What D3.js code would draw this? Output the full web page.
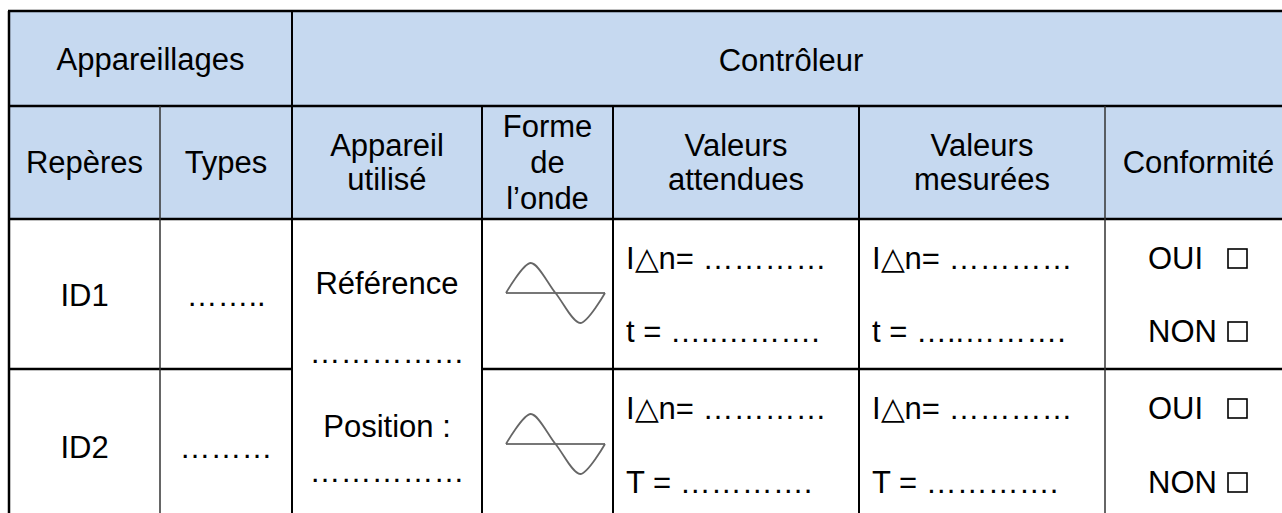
<!DOCTYPE html>
<html><head><meta charset="utf-8">
<script src="https://cdn.jsdelivr.net/npm/d3@7"></script>
<style>html,body{margin:0;padding:0;background:#fff;overflow:hidden}</style>
</head><body><svg id="c" width="1282" height="513"></svg>
<script>
// ---- content ----
const topHeaders = ["Appareillages", "Contrôleur"];
const subHeaders = [["Repères"], ["Types"], ["Appareil", "utilisé"], ["Forme", "de", "l’onde"], ["Valeurs", "attendues"], ["Valeurs", "mesurées"], ["Conformité"]];
const rowIds = ["ID1", "ID2"];
const rowTypes = ["……..", "………"];
const deviceLines = ["Référence", "……………", "Position :", "……………"];
const expectedLines = [["I△n= …………", "t = …..………."], ["I△n= …………", "T = …………."]];
const measuredLines = [["I△n= …………", "t = …..………."], ["I△n= …………", "T = …………."]];
const conformity = ["OUI", "NON"];
const waveShape = [[0, 0], [0.25, 1], [0.5, 0], [0.75, -1], [1, 0]];

// ---- layout ----
const colEdges = [9, 160, 292, 482, 613, 859, 1105, 1282];
const col = i => colEdges[i];
const colMid = i => (colEdges[i] + colEdges[i + 1]) / 2 + (i === 6 ? 5 : 0);
const yTop = 11, yH1 = 106, yH2 = 219, yR1 = 369, yBot = 513;
const FS = 31;
const font = "Arial, 'Liberation Sans', sans-serif";

const svg = d3.select("#c");
svg.append("rect").attr("x", col(0)).attr("y", yTop).attr("width", col(7) - col(0)).attr("height", yH2 - yTop).attr("fill", "#c6d9f0");

function txt(x, y, s, anchor) {
  svg.append("text").attr("x", x).attr("y", y)
    .attr("text-anchor", anchor || "middle").attr("font-family", font).attr("font-size", FS)
    .attr("fill", "#000").text(s);
}

// top headers
txt((col(0) + col(2)) / 2, 70, topHeaders[0]);
txt((col(2) + col(7)) / 2 + 4, 71, topHeaders[1]);

// sub headers
const subBase = { 1: [173], 2: [156, 190], 3: [137, 173, 209] };
subHeaders.forEach((lines, i) => {
  const bs = subBase[lines.length];
  lines.forEach((l, j) => txt(colMid(i), bs[j], l));
});

// rows
const rowIdBase = [306, 458];
rowIds.forEach((id, r) => { txt(colMid(0), rowIdBase[r], id); txt(colMid(1), rowIdBase[r], rowTypes[r]); });
const devBase = [294, 363, 437, 482];
deviceLines.forEach((l, j) => txt(colMid(2), devBase[j], l));

const lineBase = [[269, 342], [419, 493]];
expectedLines.forEach((ls, r) => ls.forEach((l, j) => txt(col(4) + 13, lineBase[r][j], l, "start")));
measuredLines.forEach((ls, r) => ls.forEach((l, j) => txt(col(5) + 13, lineBase[r][j], l, "start")));

lineBase.forEach(bs => {
  conformity.forEach((c, j) => {
    txt(1148, bs[j], c, "start");
    svg.append("rect").attr("x", 1228).attr("y", bs[j] - 20).attr("width", 19).attr("height", 19)
      .attr("fill", "none").attr("stroke", "#000").attr("stroke-width", 1.6);
  });
});

// sine icons
const waveAxis = [293, 444];
const wx = d3.scaleLinear().domain([0, 1]).range([506, 605]);
waveAxis.forEach(ay => {
  const wy = d3.scaleLinear().domain([-1, 1]).range([ay + 30, ay - 30]);
  const g = svg.append("g");
  g.append("line").attr("x1", wx(0)).attr("x2", wx(1)).attr("y1", ay).attr("y2", ay)
    .attr("stroke", "#777").attr("stroke-width", 2);
  g.append("path").attr("d", d3.line().x(d => wx(d[0])).y(d => wy(d[1])).curve(d3.curveCardinal.tension(0.1))(waveShape))
    .attr("fill", "none").attr("stroke", "#666").attr("stroke-width", 1.8);
});

// grid lines
function ln(x1, y1, x2, y2, w, c) {
  svg.append("line").attr("x1", x1).attr("y1", y1).attr("x2", x2).attr("y2", y2)
    .attr("stroke", c || "#000").attr("stroke-width", w);
}
ln(col(0) - 1, yTop, col(7), yTop, 2.5);
ln(col(0), yTop, col(0), yBot, 2.5);
ln(col(0), yH1, col(7), yH1, 2.5);
ln(col(0), yH2, col(7), yH2, 2.5);
ln(col(0), yR1, col(2), yR1, 2.5);
ln(col(3), yR1, col(7), yR1, 2.5);
ln(col(1), yH1, col(1), yBot, 1.5, "#333");
ln(col(2), yTop, col(2), yBot, 2);
[3, 4, 5].forEach(i => ln(col(i), yH1, col(i), yBot, 2));
ln(col(6), yH1, col(6), yBot, 1.5, "#333");
</script></body></html>
